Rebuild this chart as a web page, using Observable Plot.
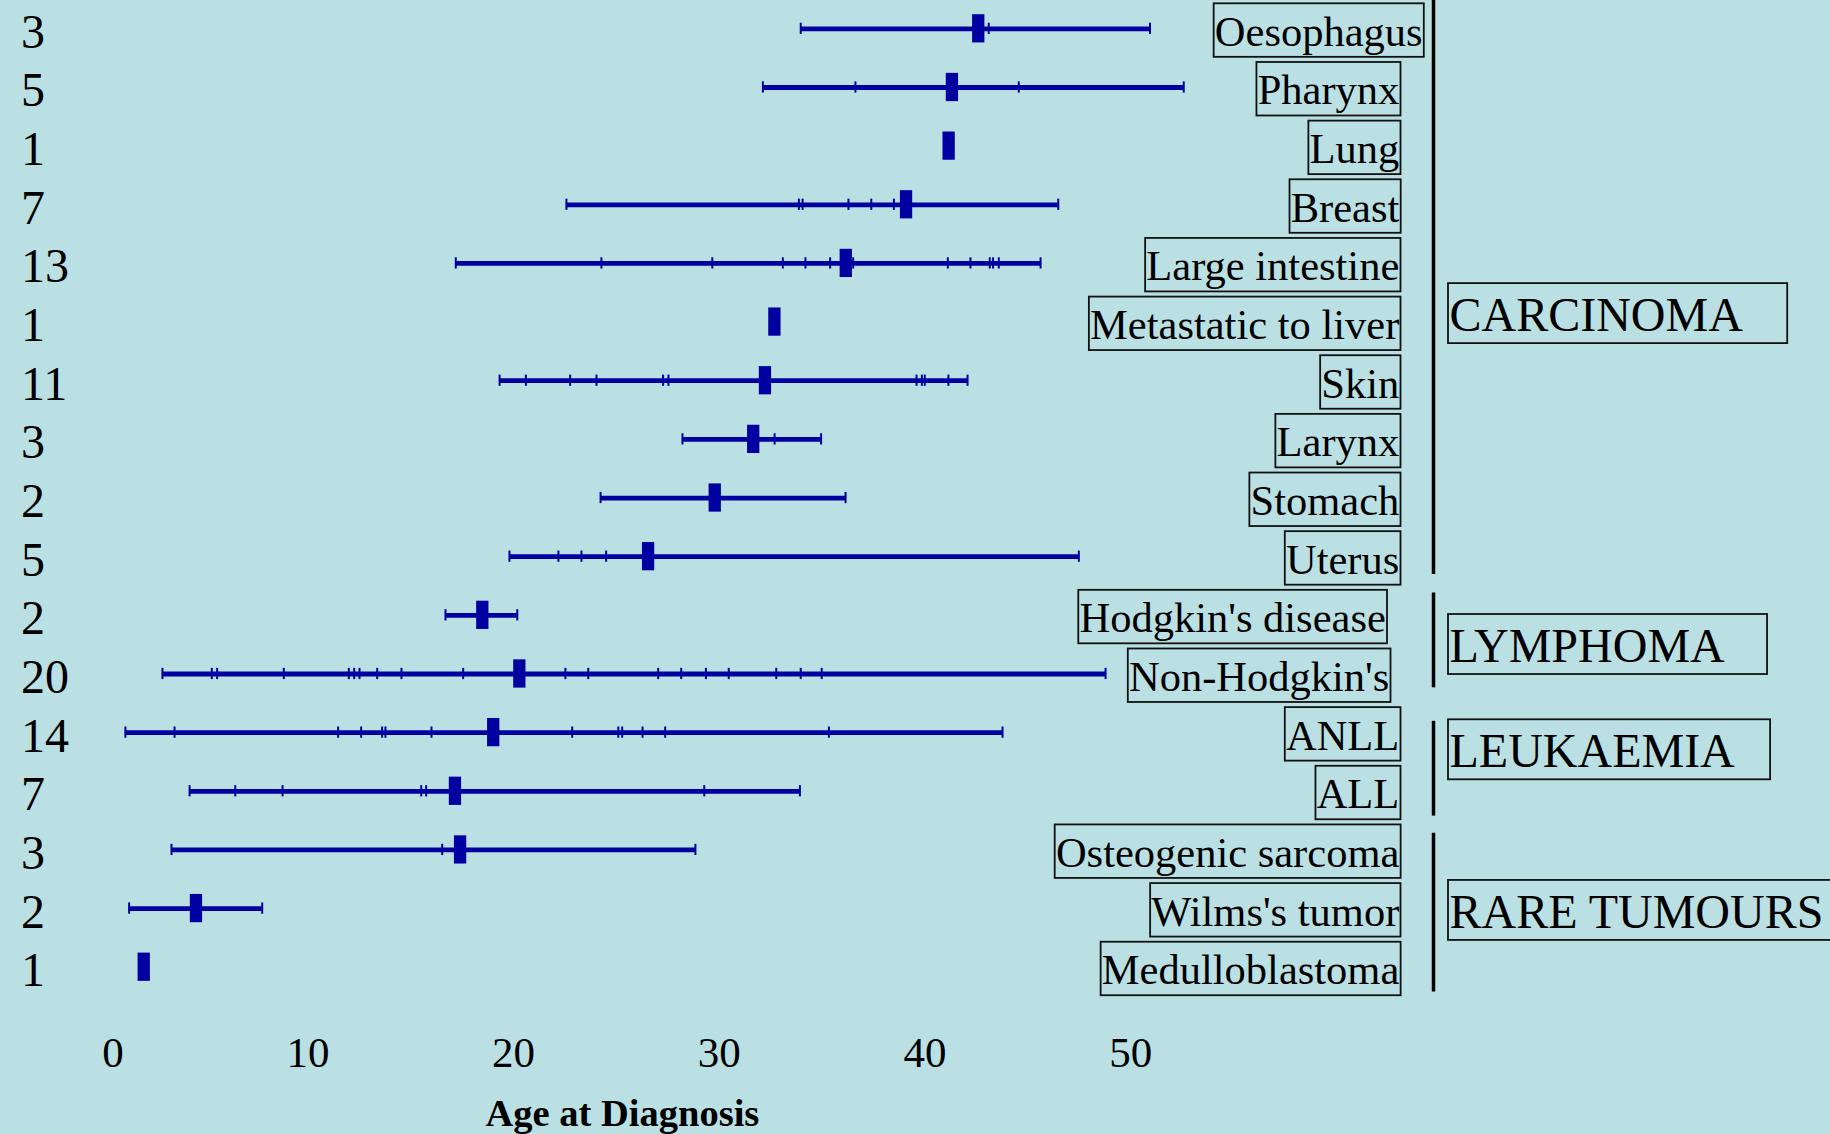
<!DOCTYPE html>
<html>
<head>
<meta charset="utf-8">
<script src="https://cdn.jsdelivr.net/npm/d3@7"></script>
<script src="https://cdn.jsdelivr.net/npm/@observablehq/plot@0.6"></script>
<style>
  html, body { margin: 0; padding: 0; background: #bbe0e3; overflow: hidden; }
  #chart svg { display: block; }
</style>
</head>
<body>
<div id="chart"></div>
<script>
// ---------------- data ----------------
const categories = [
  "Oesophagus", "Pharynx", "Lung", "Breast", "Large intestine",
  "Metastatic to liver", "Skin", "Larynx", "Stomach", "Uterus",
  "Hodgkin's disease", "Non-Hodgkin's", "ANLL", "ALL",
  "Osteogenic sarcoma", "Wilms's tumor", "Medulloblastoma"
];
const counts = [3, 5, 1, 7, 13, 1, 11, 3, 2, 5, 2, 20, 14, 7, 3, 2, 1];
// individual ages at diagnosis (small ticks)
const ages = [
  [33.91, 43.05, 50.89],
  [32.07, 36.57, 41.26, 44.51, 52.53],
  [41.10],
  [22.52, 33.82, 34.00, 36.23, 37.34, 38.44, 46.43],
  [17.14, 24.22, 29.61, 33.04, 34.14, 35.34, 36.46, 41.06, 42.16, 43.10, 43.26, 43.54, 45.57],
  [32.63],
  [19.27, 20.55, 22.70, 23.98, 27.22, 27.48, 39.54, 39.80, 39.94, 41.09, 42.02],
  [28.16, 32.64, 34.90],
  [24.18, 36.09],
  [19.75, 22.13, 23.25, 24.45, 47.43],
  [16.64, 20.13],
  [2.88, 5.28, 5.54, 8.78, 11.94, 12.20, 12.46, 13.32, 14.50, 17.50,
   22.47, 23.58, 26.98, 28.10, 29.30, 30.41, 32.72, 33.91, 34.93, 48.73],
  [1.08, 3.47, 11.42, 12.54, 13.56, 13.72, 15.96, 22.80, 25.04, 25.23, 26.22, 27.32, 35.28, 43.72],
  [4.20, 6.42, 8.72, 15.46, 15.70, 29.22, 33.87],
  [3.32, 16.48, 28.79],
  [1.26, 7.73],
  [1.97]
];
// central marker (thick bar) per category
const markers = [42.54, 41.26, 41.10, 39.03, 36.10, 32.63, 32.17, 31.60, 29.73, 26.49,
                 18.43, 20.23, 18.96, 17.10, 17.35, 4.51, 1.97];
const groups = ["CARCINOMA", "LYMPHOMA", "LEUKAEMIA", "RARE TUMOURS"];
const groupFirst = ["Oesophagus", "Hodgkin's disease", "ANLL", "Osteogenic sarcoma"];
const groupLast = ["Uterus", "Non-Hodgkin's", "ALL", "Medulloblastoma"];
const xTicks = [0, 10, 20, 30, 40, 50];
const xLabel = "Age at Diagnosis";

// ---------------- tables ----------------
const caseRows = categories.flatMap((c, i) => ages[i].map(a => ({cat: c, age: a})));
const rangeRows = categories.map((c, i) => {
  const [lo, hi] = d3.extent(ages[i]);
  return {cat: c, lo, hi};
});
const markerRows = categories.map((c, i) => ({cat: c, value: markers[i]}));
const groupRows = groups.map((g, i) => ({
  name: g, first: groupFirst[i], last: groupLast[i],
  n: categories.indexOf(groupLast[i]) - categories.indexOf(groupFirst[i]) + 1
}));

// ---------------- layout / style ----------------
const W = 1830, H = 1134;
const mTop = -1, bw = 58.65;
const mLeft = 102.7, xRight = 1131.2;
const mBottom = H - (mTop + bw * categories.length);
const blue = "#0000a0";
const serif = "'Liberation Serif', 'Times New Roman', serif";
const labelShift = {"Oesophagus": 23.3, "Hodgkin's disease": -13.5, "Non-Hodgkin's": -10};
const groupStyle = {
  "CARCINOMA":    {nudge: 23, insetTop: 1,  insetBottom: 11.5, padRight: 44},
  "LYMPHOMA":     {nudge: 2,  insetTop: 7,  insetBottom: 15.5, padRight: 42},
  "LEUKAEMIA":    {nudge: -10, insetTop: 18, insetBottom: 4.5, padRight: 35},
  "RARE TUMOURS": {nudge: 4,  insetTop: 12.6, insetBottom: 4.5, padRight: 40}
};
const catDx = 1398.8 - xRight;
const groupDx = 1449 - xRight;
const ruleDx = 1433 - xRight;

const marks = [
  // range lines
  Plot.ruleY(rangeRows, {y: "cat", x1: "lo", x2: "hi", stroke: blue, strokeWidth: 4.8}),
  // individual cases
  Plot.tickX(caseRows, {x: "age", y: "cat", stroke: blue, strokeWidth: 2, insetTop: 23.7, insetBottom: 23.7}),
  // central marker
  Plot.tickX(markerRows, {x: "value", y: "cat", stroke: blue, strokeWidth: 12.3, insetTop: 15.2, insetBottom: 15.2}),
  // counts on the left
  Plot.text(categories, {
    y: d => d, text: (d, i) => String(counts[i]), frameAnchor: "left",
    dx: 20.5 - mLeft, dy: 3.6, textAnchor: "start", fontSize: 48, fill: "black"
  }),
  // category labels
  ...categories.map(c => Plot.text([c], {
    y: d => d, text: d => d, frameAnchor: "right",
    dx: catDx + (labelShift[c] || 0), dy: 3.4, textAnchor: "end", fontSize: 42.5, fill: "black"
  })),
  // group rules and labels
  ...groupRows.map(g => Plot.ruleX([50], {
    x: d => d, dx: ruleDx, y1: () => g.first, y2: () => g.last,
    stroke: "black", strokeWidth: 3.5,
    insetTop: groupStyle[g.name].insetTop, insetBottom: groupStyle[g.name].insetBottom
  })),
  ...groupRows.map(g => Plot.text([g.name], {
    y: () => g.first, text: d => d, frameAnchor: "right", dx: groupDx,
    dy: bw * (g.n - 1) / 2 + groupStyle[g.name].nudge, textAnchor: "start",
    fontSize: 48, fill: "black"
  })),
  // x axis
  Plot.axisX(xTicks, {
    tickSize: 0, tickPadding: 39.5, fontSize: 43, textAnchor: "end", dx: 20.5,
    label: null, fill: "black"
  }),
  Plot.text([xLabel], {
    frameAnchor: "bottom", lineAnchor: "middle", text: d => d, dx: 5,
    dy: 1125 - (H - mBottom) - 0.32 * 38.5, fontSize: 38.5, fontWeight: "bold", fill: "black"
  })
];

const chart = Plot.plot({
  width: W, height: H,
  marginTop: mTop, marginBottom: mBottom,
  marginLeft: mLeft, marginRight: W - xRight,
  x: {domain: [0, 50], axis: null},
  y: {domain: categories, padding: 0, round: false, axis: null},
  style: {background: "#bbe0e3", fontFamily: serif, color: "black", overflow: "visible"},
  marks
});
document.getElementById("chart").append(chart);

// boxes around category and group labels (from text bounding boxes)
const catSet = new Set(categories), grpSet = new Set(groups);
chart.querySelectorAll("text").forEach(t => {
  const s = t.textContent;
  let pad = null;
  if (catSet.has(s)) pad = {l: 1.2, r: 1.2, t: 4.5, b: 2};
  else if (grpSet.has(s)) pad = {l: 1.5, r: groupStyle[s].padRight, t: 5, b: 2};
  if (!pad) return;
  const b = t.getBBox();
  const r = document.createElementNS("http://www.w3.org/2000/svg", "rect");
  r.setAttribute("x", b.x - pad.l);
  r.setAttribute("y", b.y - pad.t);
  r.setAttribute("width", b.width + pad.l + pad.r);
  r.setAttribute("height", b.height + pad.t + pad.b);
  r.setAttribute("fill", "none");
  r.setAttribute("stroke", "#111");
  r.setAttribute("stroke-width", 1.8);
  const tr = t.getAttribute("transform");
  if (tr) r.setAttribute("transform", tr);
  t.parentNode.insertBefore(r, t);
});
</script>
</body>
</html>
